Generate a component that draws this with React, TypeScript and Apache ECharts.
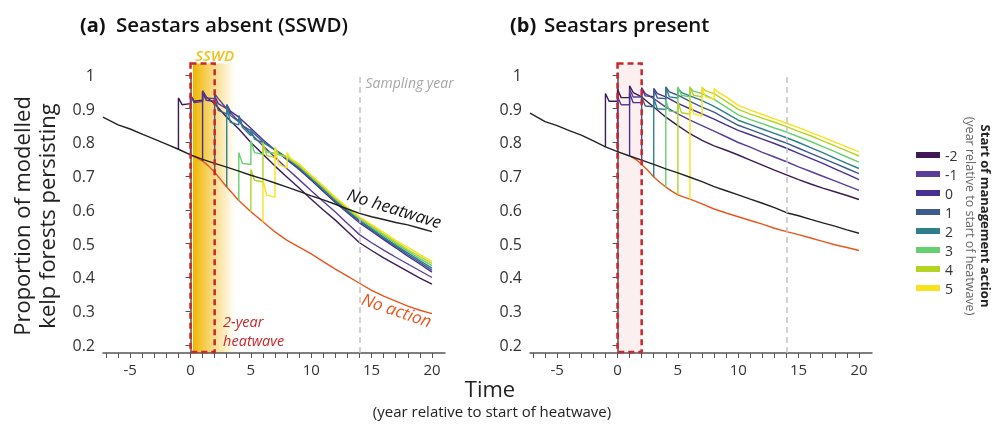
import React, { useEffect, useRef } from "react";
import * as echarts from "echarts";

const FONT = "'Open Sans', 'Noto Sans', sans-serif";

// Legend / management start years and colours
const startYears = ["-2", "-1", "0", "1", "2", "3", "4", "5"];
const startColors = ["#3e1a55", "#5a3e99", "#4a2f92", "#3b5b8e", "#2d7f8c", "#66cf6e", "#b3d423", "#f9e11e"];

// Axis ticks
const yTickValues = [0.2, 0.3, 0.4, 0.5, 0.6, 0.7, 0.8, 0.9, 1];
const xLabelValues = [-5, 0, 5, 10, 15, 20];
const xTickValues = [-7, -6, -5, -4, -3, -2, -1, 0, 1, 2, 3, 4, 5, 6, 7, 8, 9, 10, 11, 12, 13, 14, 15, 16, 17, 18, 19, 20];

const samplingYear = 14;
const heatwaveStart = 0;
const heatwaveEnd = 2;

// ---------- (a) Seastars absent (SSWD) ----------
const absentNoHeatwave = [[-7.25, 0.875], [-6, 0.852], [-5, 0.84], [-4, 0.825], [-3, 0.81], [-2, 0.795], [-1, 0.78], [0, 0.763], [1, 0.75], [2, 0.738], [3, 0.727], [4, 0.715], [5, 0.703], [6, 0.692], [7, 0.68], [8, 0.668], [9, 0.655], [10, 0.642], [11, 0.63], [12, 0.617], [13, 0.603], [14, 0.59], [15, 0.58], [16, 0.572], [17, 0.563], [18, 0.556], [19, 0.546], [20, 0.536]];
const absentNoAction = [[0.3, 0.759], [1, 0.745], [1.5, 0.73], [2, 0.712], [2.5, 0.69], [3, 0.668], [3.5, 0.648], [4, 0.628], [5, 0.595], [6, 0.565], [7, 0.535], [8, 0.51], [9, 0.49], [10, 0.47], [11, 0.447], [12, 0.425], [13, 0.404], [14, 0.383], [15, 0.362], [16, 0.345], [17, 0.33], [18, 0.315], [19, 0.303], [20, 0.293]];
const absentStartM2 = [[-1, 0.78], [-1, 0.932], [-0.7, 0.912], [0, 0.915], [0, 0.941], [0.3, 0.922], [1, 0.925], [1, 0.953], [1.3, 0.935], [2, 0.915], [3, 0.875], [4, 0.84], [5, 0.8], [6, 0.765], [7, 0.73], [8, 0.697], [9, 0.665], [10, 0.632], [11, 0.6], [12, 0.57], [13, 0.536], [14, 0.503], [15, 0.48], [16, 0.458], [17, 0.438], [18, 0.418], [19, 0.398], [20, 0.38]];
const absentStartM1 = [[0, 0.763], [0, 0.94], [0.3, 0.918], [1, 0.921], [1, 0.952], [1.3, 0.932], [2, 0.93], [2, 0.945], [2.3, 0.93], [3, 0.9], [4, 0.862], [5, 0.826], [6, 0.79], [7, 0.756], [8, 0.722], [9, 0.69], [10, 0.657], [11, 0.625], [12, 0.594], [13, 0.56], [14, 0.527], [15, 0.503], [16, 0.481], [17, 0.46], [18, 0.44], [19, 0.42], [20, 0.4]];
const absentStart0 = [[1, 0.745], [1, 0.948], [1.3, 0.925], [2, 0.922], [2, 0.938], [2.3, 0.915], [3, 0.9], [3, 0.912], [3.3, 0.893], [4, 0.875], [5, 0.842], [6, 0.808], [7, 0.778], [8, 0.748], [9, 0.72], [10, 0.688], [11, 0.655], [12, 0.622], [13, 0.592], [14, 0.562], [15, 0.537], [16, 0.512], [17, 0.488], [18, 0.463], [19, 0.44], [20, 0.416]];
const absentStart1 = [[2, 0.712], [2, 0.936], [2.3, 0.895], [3, 0.885], [3, 0.912], [3.3, 0.88], [4, 0.862], [4, 0.88], [4.3, 0.85], [5, 0.835], [6, 0.802], [7, 0.777], [8, 0.752], [9, 0.724], [10, 0.692], [11, 0.66], [12, 0.626], [13, 0.596], [14, 0.566], [15, 0.541], [16, 0.516], [17, 0.492], [18, 0.468], [19, 0.445], [20, 0.422]];
const absentStart2 = [[3, 0.668], [3, 0.905], [3.3, 0.86], [4, 0.852], [4, 0.875], [4.3, 0.845], [5, 0.82], [5, 0.84], [5.3, 0.81], [6, 0.8], [7, 0.779], [8, 0.755], [9, 0.727], [10, 0.695], [11, 0.663], [12, 0.629], [13, 0.599], [14, 0.57], [15, 0.545], [16, 0.52], [17, 0.496], [18, 0.473], [19, 0.45], [20, 0.428]];
const absentStart3 = [[4, 0.628], [4, 0.77], [4.3, 0.738], [5, 0.735], [5, 0.805], [5.3, 0.77], [6, 0.765], [6, 0.792], [6.3, 0.772], [7, 0.768], [8, 0.755], [9, 0.73], [10, 0.698], [11, 0.666], [12, 0.632], [13, 0.602], [14, 0.574], [15, 0.55], [16, 0.525], [17, 0.501], [18, 0.478], [19, 0.456], [20, 0.435]];
const absentStart4 = [[5, 0.595], [5, 0.72], [5.3, 0.688], [6, 0.683], [6, 0.8], [6.3, 0.762], [7, 0.755], [7, 0.785], [7.3, 0.765], [8, 0.758], [9, 0.732], [10, 0.7], [11, 0.668], [12, 0.635], [13, 0.605], [14, 0.577], [15, 0.553], [16, 0.529], [17, 0.505], [18, 0.483], [19, 0.462], [20, 0.442]];
const absentStart5 = [[6, 0.565], [6, 0.69], [6.3, 0.645], [7, 0.638], [7, 0.785], [7.3, 0.735], [8, 0.725], [8, 0.77], [8.3, 0.752], [9, 0.737], [10, 0.703], [11, 0.672], [12, 0.638], [13, 0.608], [14, 0.58], [15, 0.557], [16, 0.534], [17, 0.51], [18, 0.489], [19, 0.468], [20, 0.448]];

// ---------- (b) Seastars present ----------
const presentNoHeatwave = [[-7.25, 0.887], [-6, 0.862], [-5, 0.85], [-4, 0.835], [-3, 0.822], [-2, 0.805], [-1, 0.787], [0, 0.773], [1, 0.76], [2, 0.748], [3, 0.735], [4, 0.722], [5, 0.71], [6, 0.697], [7, 0.684], [8, 0.669], [9, 0.657], [10, 0.645], [11, 0.632], [12, 0.62], [13, 0.607], [14, 0.592], [15, 0.583], [16, 0.572], [17, 0.562], [18, 0.552], [19, 0.541], [20, 0.531]];
const presentNoAction = [[1.1, 0.759], [1.6, 0.748], [2, 0.735], [2.5, 0.718], [3, 0.698], [3.5, 0.682], [4, 0.668], [4.5, 0.656], [5, 0.645], [5.5, 0.638], [6, 0.632], [7, 0.618], [8, 0.603], [9, 0.591], [10, 0.58], [11, 0.569], [12, 0.558], [13, 0.546], [14, 0.536], [15, 0.527], [16, 0.517], [17, 0.507], [18, 0.497], [19, 0.489], [20, 0.48]];
const presentStartM2 = [[-1, 0.787], [-1, 0.945], [-0.7, 0.922], [0, 0.922], [0, 0.958], [0.3, 0.933], [1, 0.933], [1, 0.968], [1.3, 0.948], [2, 0.935], [3, 0.905], [4, 0.875], [5, 0.85], [6, 0.826], [7, 0.806], [8, 0.79], [9, 0.777], [10, 0.763], [11, 0.748], [12, 0.733], [13, 0.718], [14, 0.704], [15, 0.69], [16, 0.677], [17, 0.665], [18, 0.654], [19, 0.643], [20, 0.631]];
const presentStartM1 = [[0, 0.773], [0, 0.936], [0.3, 0.912], [1, 0.912], [1, 0.958], [1.3, 0.935], [2, 0.935], [2, 0.962], [2.3, 0.945], [3, 0.93], [4, 0.905], [5, 0.885], [6, 0.866], [7, 0.85], [8, 0.834], [9, 0.817], [10, 0.8], [11, 0.786], [12, 0.771], [13, 0.757], [14, 0.743], [15, 0.728], [16, 0.714], [17, 0.7], [18, 0.686], [19, 0.672], [20, 0.658]];
const presentStart0 = [[1, 0.76], [1, 0.945], [1.3, 0.918], [2, 0.918], [2, 0.962], [2.3, 0.938], [3, 0.936], [3, 0.96], [3.3, 0.945], [4, 0.935], [5, 0.916], [6, 0.9], [7, 0.885], [8, 0.869], [9, 0.852], [10, 0.836], [11, 0.823], [12, 0.81], [13, 0.797], [14, 0.783], [15, 0.768], [16, 0.753], [17, 0.738], [18, 0.722], [19, 0.706], [20, 0.69]];
const presentStart1 = [[2, 0.735], [2, 0.935], [2.3, 0.908], [3, 0.906], [3, 0.958], [3.3, 0.932], [4, 0.93], [4, 0.965], [4.3, 0.95], [5, 0.94], [6, 0.922], [7, 0.905], [8, 0.89], [9, 0.87], [10, 0.851], [11, 0.838], [12, 0.825], [13, 0.811], [14, 0.798], [15, 0.783], [16, 0.768], [17, 0.753], [18, 0.738], [19, 0.723], [20, 0.708]];
const presentStart2 = [[3, 0.698], [3, 0.93], [3.3, 0.9], [4, 0.898], [4, 0.962], [4.3, 0.935], [5, 0.932], [5, 0.96], [5.3, 0.948], [6, 0.938], [7, 0.924], [8, 0.907], [9, 0.887], [10, 0.866], [11, 0.853], [12, 0.84], [13, 0.827], [14, 0.814], [15, 0.8], [16, 0.785], [17, 0.77], [18, 0.754], [19, 0.738], [20, 0.723]];
const presentStart3 = [[4, 0.668], [4, 0.925], [4.3, 0.893], [5, 0.89], [5, 0.965], [5.3, 0.94], [6, 0.935], [6, 0.962], [6.3, 0.952], [7, 0.945], [8, 0.928], [9, 0.905], [10, 0.882], [11, 0.868], [12, 0.856], [13, 0.843], [14, 0.831], [15, 0.817], [16, 0.803], [17, 0.788], [18, 0.773], [19, 0.757], [20, 0.742]];
const presentStart4 = [[5, 0.645], [5, 0.92], [5.3, 0.888], [6, 0.884], [6, 0.965], [6.3, 0.94], [7, 0.935], [7, 0.963], [7.3, 0.953], [8, 0.945], [9, 0.922], [10, 0.898], [11, 0.884], [12, 0.872], [13, 0.86], [14, 0.847], [15, 0.833], [16, 0.82], [17, 0.805], [18, 0.79], [19, 0.775], [20, 0.76]];
const presentStart5 = [[6, 0.632], [6, 0.92], [6.3, 0.885], [7, 0.878], [7, 0.963], [7.3, 0.935], [8, 0.928], [8, 0.96], [8.3, 0.95], [9, 0.935], [10, 0.91], [11, 0.896], [12, 0.883], [13, 0.87], [14, 0.857], [15, 0.844], [16, 0.83], [17, 0.816], [18, 0.801], [19, 0.787], [20, 0.772]];

const absentManagement = [absentStartM2, absentStartM1, absentStart0, absentStart1, absentStart2, absentStart3, absentStart4, absentStart5];
const presentManagement = [presentStartM2, presentStartM1, presentStart0, presentStart1, presentStart2, presentStart3, presentStart4, presentStart5];

const X_MIN = -7.25;
const X_MAX = 21.08;
const Y_MIN = 0.1763;
const Y_MAX = 1.0059;
const BOX_TOP = 1.034;

const AXIS_COLOR = "#555";
const RED = "#c9252c";
const ORANGE = "#e8561c";
const BLACK = "#222";

export default function App() {
  const ref = useRef<HTMLDivElement>(null);

  useEffect(() => {
    const chart = echarts.init(ref.current!, null, { renderer: "svg" });

    const xAxis = (gridIndex: number) => ({
      type: "value",
      gridIndex,
      min: X_MIN,
      max: X_MAX,
      splitLine: { show: false },
      axisLine: { show: true, lineStyle: { color: AXIS_COLOR, width: 1.5 } },
      axisTick: { show: true, length: 5, customValues: xTickValues, lineStyle: { color: AXIS_COLOR, width: 1 } },
      axisLabel: { customValues: xLabelValues, fontSize: 15, color: "#333", margin: 8, fontFamily: FONT },
    });
    const yAxis = (gridIndex: number) => ({
      type: "value",
      gridIndex,
      min: Y_MIN,
      max: Y_MAX,
      splitLine: { show: false },
      axisLine: { show: true, lineStyle: { color: AXIS_COLOR, width: 1.5 } },
      axisTick: { show: true, length: 5, customValues: yTickValues, lineStyle: { color: AXIS_COLOR, width: 1 } },
      axisLabel: {
        customValues: yTickValues,
        fontSize: 16,
        color: "#333",
        margin: 8,
        fontFamily: FONT,
        formatter: (v: number) => (Math.abs(v - 1) < 1e-9 ? "1" : v.toFixed(1)),
      },
    });

    const samplingMark = {
      silent: true,
      symbol: ["none", "none"],
      label: { show: false },
      lineStyle: { color: "#c4c4c4", width: 1.5, type: [6, 4] },
      data: [{ xAxis: samplingYear }],
    };

    const lineSeries = (name: string, data: number[][], color: string, g: number, extra: any = {}) => ({
      name,
      type: "line",
      xAxisIndex: g,
      yAxisIndex: g,
      data,
      showSymbol: false,
      symbol: "none",
      color,
      itemStyle: { color },
      lineStyle: { color, width: 1.4 },
      silent: true,
      ...extra,
    });

    const series: any[] = [];
    [0, 1].forEach((g) => {
      const noHw = g === 0 ? absentNoHeatwave : presentNoHeatwave;
      const noAct = g === 0 ? absentNoAction : presentNoAction;
      const mgmt = g === 0 ? absentManagement : presentManagement;
      series.push(lineSeries("No action", noAct, ORANGE, g));
      mgmt.forEach((d, i) => series.push(lineSeries(startYears[i], d, startColors[i], g)));
      series.push(lineSeries("No heatwave", noHw, BLACK, g, { markLine: samplingMark }));
    });

    chart.setOption({
      animation: false,
      grid: [
        { left: 103, top: 73, width: 342, height: 280 },
        { left: 530, top: 73, width: 342, height: 280 },
      ],
      xAxis: [xAxis(0), xAxis(1)],
      yAxis: [yAxis(0), yAxis(1)],
      legend: {
        orient: "vertical",
        left: 911,
        top: 143,
        itemWidth: 24,
        itemHeight: 6,
        itemGap: 5,
        icon: "rect",
        selectedMode: false,
        data: startYears,
        textStyle: { fontSize: 14, color: "#333", fontFamily: FONT, lineHeight: 14 },
      },
      series,
    });

    const px = (g: number, x: number, y: number) => chart.convertToPixel({ gridIndex: g } as any, [x, y]) as number[];

    const graphics: any[] = [];
    // SSWD gradient band (panel a)
    const bandL = px(0, 0.2, BOX_TOP);
    const bandR = px(0, 4.0, Y_MIN);
    graphics.push({
      type: "rect",
      z: 0,
      silent: true,
      shape: { x: bandL[0], y: bandL[1], width: bandR[0] - bandL[0], height: bandR[1] - bandL[1] },
      style: {
        fill: new echarts.graphic.LinearGradient(0, 0, 1, 0, [
          { offset: 0, color: "#f0b400" },
          { offset: 0.12, color: "#f3c124" },
          { offset: 0.45, color: "#f8dc88" },
          { offset: 0.75, color: "#fdf1cf" },
          { offset: 1, color: "rgba(255,255,255,0)" },
        ]),
      },
    });
    // Heatwave boxes
    [0, 1].forEach((g) => {
      const tl = px(g, heatwaveStart, BOX_TOP);
      const br = px(g, heatwaveEnd, Y_MIN);
      const shape = { x: tl[0], y: tl[1], width: br[0] - tl[0], height: br[1] - tl[1] - 1 };
      if (g === 1) {
        graphics.push({ type: "rect", z: 0, silent: true, shape, style: { fill: "rgba(235,170,165,0.18)" } });
      }
      graphics.push({
        type: "rect",
        z: 100,
        silent: true,
        shape,
        style: { fill: "none", stroke: RED, lineWidth: 2.5, lineDash: [6, 4] },
      });
    });

    const txt = (x: number, y: number, text: string, style: any, extra: any = {}) => ({
      type: "text",
      x,
      y,
      silent: true,
      z: 110,
      style: { text, fontFamily: FONT, textAlign: "center", textVerticalAlign: "middle", ...style },
      ...extra,
    });

    const sswd = px(0, 2.0, BOX_TOP);
    graphics.push(txt(sswd[0], sswd[1] - 9, "SSWD", { fill: "#f0c21a", fontSize: 15, fontStyle: "italic", fontWeight: 600 }));
    const samp = px(0, 14.5, 0.979);
    graphics.push(txt(samp[0], samp[1], "Sampling year", { fill: "#a6a6a6", fontSize: 14, fontStyle: "italic", textAlign: "left" }));
    const hw1 = px(0, 2.7, 0.27);
    graphics.push(txt(hw1[0], hw1[1], "2-year", { fill: RED, fontSize: 14.5, fontStyle: "italic", textAlign: "left" }));
    const hw2 = px(0, 2.7, 0.214);
    graphics.push(txt(hw2[0], hw2[1], "heatwave", { fill: RED, fontSize: 14.5, fontStyle: "italic", textAlign: "left" }));
    const nh = px(0, 16.9, 0.606);
    graphics.push(txt(nh[0], nh[1], "No heatwave", { fill: "#111", fontSize: 17, fontStyle: "italic" }, { rotation: -0.3 }));
    const na = px(0, 17.1, 0.304);
    graphics.push(txt(na[0], na[1], "No action", { fill: ORANGE, fontSize: 17, fontStyle: "italic" }, { rotation: -0.33 }));

    // Titles
    graphics.push(txt(80, 24, "(a)", { fill: "#111", fontSize: 20, fontWeight: 700, textAlign: "left" }));
    graphics.push(txt(116, 24, "Seastars absent (SSWD)", { fill: "#111", fontSize: 20.5, fontWeight: 600, textAlign: "left" }));
    graphics.push(txt(510, 24, "(b)", { fill: "#111", fontSize: 20, fontWeight: 700, textAlign: "left" }));
    graphics.push(txt(544, 24, "Seastars present", { fill: "#111", fontSize: 20.5, fontWeight: 600, textAlign: "left" }));

    // Y axis name
    graphics.push(txt(21, 216, "Proportion of modelled", { fill: "#222", fontSize: 22 }, { rotation: Math.PI / 2 }));
    graphics.push(txt(46, 216, "kelp forests persisting", { fill: "#222", fontSize: 22 }, { rotation: Math.PI / 2 }));

    // X axis name
    graphics.push(txt(490, 388, "Time", { fill: "#222", fontSize: 22 }));
    graphics.push(txt(492, 411, "(year relative to start of heatwave)", { fill: "#222", fontSize: 15 }));

    // Legend title
    graphics.push(txt(986, 216, "Start of management action", { fill: "#222", fontSize: 13, fontWeight: 700 }, { rotation: -Math.PI / 2 }));
    graphics.push(txt(970, 216, "(year relative to start of heatwave)", { fill: "#666", fontSize: 12.5 }, { rotation: -Math.PI / 2 }));

    chart.setOption({ graphic: graphics });

    return () => chart.dispose();
  }, []);

  return <div ref={ref} style={{ position: "fixed", left: 0, top: 0, width: 995, height: 425 }} />;
}
